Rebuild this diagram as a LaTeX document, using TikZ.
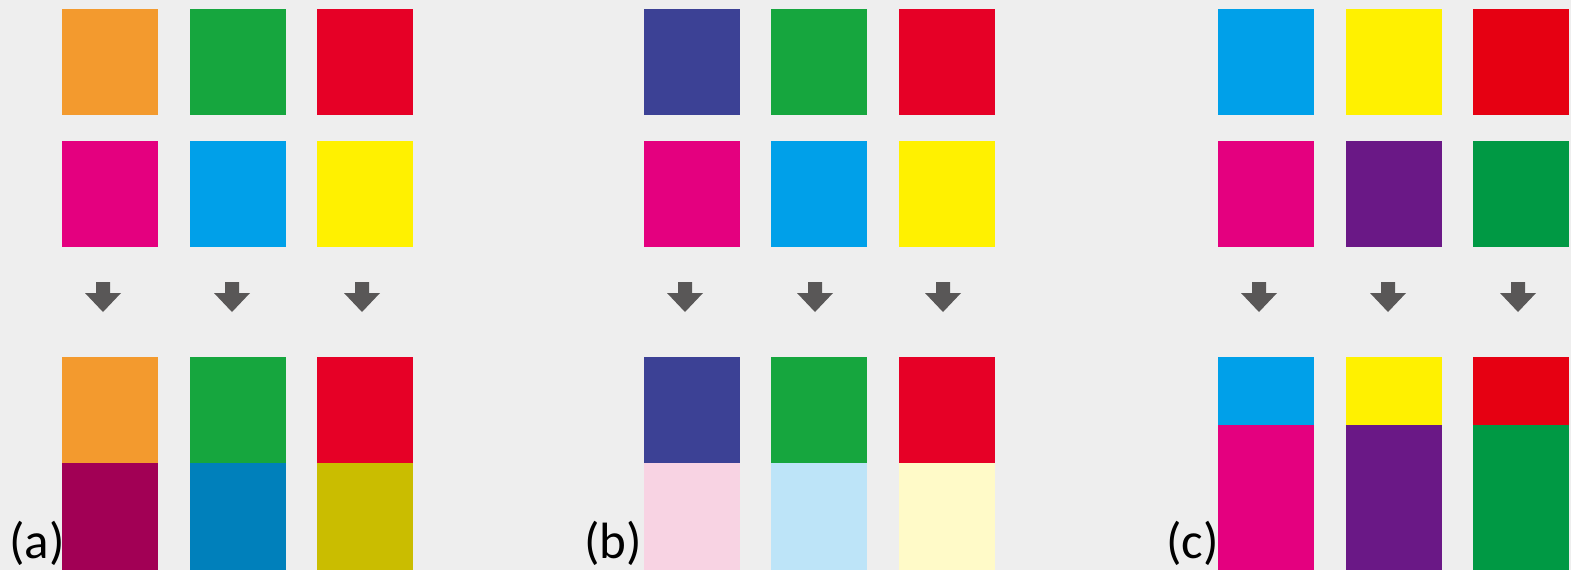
\documentclass[tikz,border=0pt]{standalone}
\usepackage{fontspec}
\setmainfont{Carlito}
\definecolor{bg}{RGB}{238,238,238}
\definecolor{cOrange}{RGB}{243,154,46}
\definecolor{cGreen}{RGB}{22,166,62}
\definecolor{cRed}{RGB}{230,0,38}
\definecolor{cMagenta}{RGB}{228,0,127}
\definecolor{cCyan}{RGB}{0,160,233}
\definecolor{cYellow}{RGB}{255,241,0}
\definecolor{cDMag}{RGB}{162,0,85}
\definecolor{cDBlue}{RGB}{0,128,187}
\definecolor{cOlive}{RGB}{202,189,0}
\definecolor{cNavy}{RGB}{60,65,149}
\definecolor{cPink}{RGB}{248,211,227}
\definecolor{cLBlue}{RGB}{189,228,248}
\definecolor{cLYellow}{RGB}{255,250,200}
\definecolor{cPurple}{RGB}{106,24,134}
\definecolor{cGreenB}{RGB}{0,153,68}
\definecolor{cRedB}{RGB}{230,0,18}
\definecolor{arr}{RGB}{89,87,87}
\begin{document}
\begin{tikzpicture}[x=1pt,y=-1pt,
  blk/.style={inner sep=0pt,outer sep=0pt,anchor=north west,minimum width=96pt},
  sq/.style={blk,minimum height=106pt},
  lbl/.style={inner sep=0pt,anchor=base west,font=\fontsize{51}{51}\selectfont}]
\fill[bg] (0,0) rectangle (1571,570);
\useasboundingbox (0,0) rectangle (1571,570);
% arrow shape
\newcommand{\downarr}[1]{\fill[arr] (#1-7,282) -- (#1+7,282) -- (#1+7,293) -- (#1+18,293) -- (#1,312) -- (#1-18,293) -- (#1-7,293) -- cycle;}
% ---------- (a)
\node[sq,fill=cOrange] (a11) at (62,9) {};
\node[sq,fill=cGreen] (a12) at (190,9) {};
\node[sq,fill=cRed] (a13) at (317,9) {};
\node[sq,fill=cMagenta] (a21) at (62,141) {};
\node[sq,fill=cCyan] (a22) at (190,141) {};
\node[sq,fill=cYellow] (a23) at (317,141) {};
\downarr{103}\downarr{232}\downarr{362}
\node[blk,minimum height=106pt,fill=cOrange] (a31) at (62,357) {};
\node[blk,minimum height=107pt,fill=cDMag] (a41) at (62,463) {};
\node[blk,minimum height=106pt,fill=cGreen] (a32) at (190,357) {};
\node[blk,minimum height=107pt,fill=cDBlue] (a42) at (190,463) {};
\node[blk,minimum height=106pt,fill=cRed] (a33) at (317,357) {};
\node[blk,minimum height=107pt,fill=cOlive] (a43) at (317,463) {};
\node[lbl] (la) at (9,558) {(a)};
% ---------- (b)
\node[sq,fill=cNavy] (b11) at (644,9) {};
\node[sq,fill=cGreen] (b12) at (771,9) {};
\node[sq,fill=cRed] (b13) at (899,9) {};
\node[sq,fill=cMagenta] (b21) at (644,141) {};
\node[sq,fill=cCyan] (b22) at (771,141) {};
\node[sq,fill=cYellow] (b23) at (899,141) {};
\downarr{685}\downarr{815}\downarr{943}
\node[blk,minimum height=106pt,fill=cNavy] (b31) at (644,357) {};
\node[blk,minimum height=107pt,fill=cPink] (b41) at (644,463) {};
\node[blk,minimum height=106pt,fill=cGreen] (b32) at (771,357) {};
\node[blk,minimum height=107pt,fill=cLBlue] (b42) at (771,463) {};
\node[blk,minimum height=106pt,fill=cRed] (b33) at (899,357) {};
\node[blk,minimum height=107pt,fill=cLYellow] (b43) at (899,463) {};
\node[lbl] (lb) at (584,558) {(b)};
% ---------- (c)
\node[sq,fill=cCyan] (c11) at (1218,9) {};
\node[sq,fill=cYellow] (c12) at (1346,9) {};
\node[sq,fill=cRedB] (c13) at (1473,9) {};
\node[sq,fill=cMagenta] (c21) at (1218,141) {};
\node[sq,fill=cPurple] (c22) at (1346,141) {};
\node[sq,fill=cGreenB] (c23) at (1473,141) {};
\downarr{1259}\downarr{1388}\downarr{1518}
\node[blk,minimum height=68pt,fill=cCyan] (c31) at (1218,357) {};
\node[blk,minimum height=145pt,fill=cMagenta] (c41) at (1218,425) {};
\node[blk,minimum height=68pt,fill=cYellow] (c32) at (1346,357) {};
\node[blk,minimum height=145pt,fill=cPurple] (c42) at (1346,425) {};
\node[blk,minimum height=68pt,fill=cRedB] (c33) at (1473,357) {};
\node[blk,minimum height=145pt,fill=cGreenB] (c43) at (1473,425) {};
\node[lbl] (lc) at (1166,558) {(c)};
\end{tikzpicture}
\end{document}
